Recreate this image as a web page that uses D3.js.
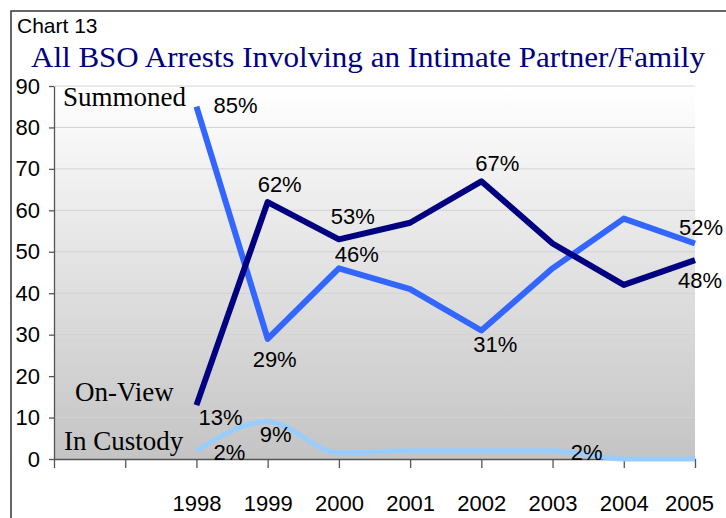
<!DOCTYPE html>
<html>
<head>
<meta charset="utf-8">
<script src="https://cdn.jsdelivr.net/npm/d3@7"></script>
<style>
  html, body { margin: 0; padding: 0; background: #fff; }
  svg { display: block; }
</style>
</head>
<body>
<svg id="chart" width="726" height="518"></svg>
<script>
// Category slots along the x axis (two leading slots are left blank)
const slotLabels = ["", "", "1998", "1999", "2000", "2001", "2002", "2003", "2004", "2005"];
const years = ["1998", "1999", "2000", "2001", "2002", "2003", "2004", "2005"];

// Share of arrests by type (%)
const onView    = [13, 62, 53, 57, 67, 52, 42, 48];
const summoned  = [85, 29, 46, 41, 31, 46, 58, 52];
const inCustody = [2, 9, 1.5, 2, 2, 2, 0, 0];

const yTicks = [0, 10, 20, 30, 40, 50, 60, 70, 80, 90];

// Which points carry a value label, and where the label sits relative to the point
const onViewLabels   = [{i: 0, dx: 24, dy: 20}, {i: 1, dx: 12, dy: -10}, {i: 2, dx: 14, dy: -15}, {i: 4, dx: 16, dy: -10}, {i: 7, dx: 5, dy: 28}];
const summonedLabels = [{i: 0, dx: 39, dy: 6}, {i: 1, dx: 7, dy: 28}, {i: 2, dx: 18, dy: -6}, {i: 4, dx: 14, dy: 21}, {i: 7, dx: 6, dy: -8}];
const custodyLabels  = [{i: 0, dx: 33, dy: 9}, {i: 1, dx: 8, dy: 20}, {i: 5, dx: 34, dy: 9}];

const svg = d3.select("#chart");
const plot = {left: 54, right: 695, top: 86, bottom: 459};

const x = d3.scalePoint().domain(d3.range(slotLabels.length)).range([plot.left, plot.right]);
const y = d3.scaleLinear().domain([0, 90]).range([plot.bottom, plot.top]);
const xi = k => x(k + 2);

// Outer frame
svg.append("path")
  .attr("d", `M11,518 L11,11 L726,11`)
  .attr("fill", "none").attr("stroke", "#333").attr("stroke-width", 1.5);

// Plot background: white at the top fading to gray
const defs = svg.append("defs");
const grad = defs.append("linearGradient").attr("id", "bg").attr("x1", 0).attr("y1", 0).attr("x2", 0).attr("y2", 1);
grad.append("stop").attr("offset", "0%").attr("stop-color", "#ffffff");
grad.append("stop").attr("offset", "100%").attr("stop-color", "#c4c4c4");
svg.append("rect")
  .attr("x", plot.left).attr("y", plot.top)
  .attr("width", plot.right - plot.left).attr("height", plot.bottom - plot.top)
  .attr("fill", "url(#bg)");

// Horizontal gridlines
svg.append("g").selectAll("line").data(yTicks.filter(t => t > 0)).join("line")
  .attr("x1", plot.left).attr("x2", plot.right)
  .attr("y1", d => y(d)).attr("y2", d => y(d))
  .attr("stroke", "#d2d2d2").attr("stroke-width", 1);

// Titles
svg.append("text").attr("x", 17).attr("y", 33)
  .attr("font-family", "Liberation Sans, Arial, sans-serif").attr("font-size", 21)
  .attr("fill", "#000").text("Chart 13");
svg.append("text").attr("x", 31).attr("y", 67)
  .attr("font-family", "Liberation Serif, Times New Roman, serif").attr("font-size", 30)
  .attr("textLength", 674).attr("lengthAdjust", "spacingAndGlyphs")
  .attr("fill", "#000080").text("All BSO Arrests Involving an Intimate Partner/Family");

// Axes
const yAxis = svg.append("g").attr("transform", `translate(${plot.left},0)`)
  .call(d3.axisLeft(y).tickValues(yTicks).tickSize(5).tickPadding(9).tickSizeOuter(0));
const xAxis = svg.append("g").attr("transform", `translate(0,${plot.bottom})`)
  .call(d3.axisBottom(x).tickFormat(i => slotLabels[i]).tickSize(9).tickPadding(27).tickSizeOuter(0));
[yAxis, xAxis].forEach(g => {
  g.selectAll("path, line").attr("stroke", "#555").attr("stroke-width", 1.3);
  g.selectAll("text").attr("font-family", "Liberation Sans, Arial, sans-serif").attr("font-size", 22).attr("fill", "#000");
});
xAxis.selectAll("text").attr("dy", "0.71em");
// the rightmost year label is pulled slightly left so it stays inside the frame
xAxis.selectAll(".tick text").filter(i => i === slotLabels.length - 1).attr("dx", -6);

// Series lines
const straight = d3.line().x((d, k) => xi(k)).y(d => y(d));
const smooth = d3.line().x((d, k) => xi(k)).y(d => y(d)).curve(d3.curveMonotoneX);

svg.append("path").datum(inCustody).attr("d", smooth)
  .attr("fill", "none").attr("stroke", "#99ccff").attr("stroke-width", 5).attr("stroke-linejoin", "round");
svg.append("path").datum(summoned).attr("d", straight)
  .attr("fill", "none").attr("stroke", "#3366ff").attr("stroke-width", 6).attr("stroke-linejoin", "round");
svg.append("path").datum(onView).attr("d", straight)
  .attr("fill", "none").attr("stroke", "#000080").attr("stroke-width", 6).attr("stroke-linejoin", "round");

// Value labels
function valueLabels(values, spec) {
  svg.append("g").selectAll("text").data(spec).join("text")
    .attr("x", d => xi(d.i) + d.dx)
    .attr("y", d => y(values[d.i]) + d.dy)
    .attr("text-anchor", "middle")
    .attr("font-family", "Liberation Sans, Arial, sans-serif").attr("font-size", 22)
    .attr("fill", "#000")
    .text(d => Math.round(values[d.i]) + "%");
}
valueLabels(summoned, summonedLabels);
valueLabels(onView, onViewLabels);
valueLabels(inCustody, custodyLabels);

// Series names
const names = [
  {text: "Summoned", x: 63, y: 106},
  {text: "On-View", x: 75, y: 401},
  {text: "In Custody", x: 64, y: 450}
];
svg.append("g").selectAll("text").data(names).join("text")
  .attr("x", d => d.x).attr("y", d => d.y)
  .attr("font-family", "Liberation Serif, Times New Roman, serif").attr("font-size", 27)
  .attr("fill", "#000").text(d => d.text);
</script>
</body>
</html>
